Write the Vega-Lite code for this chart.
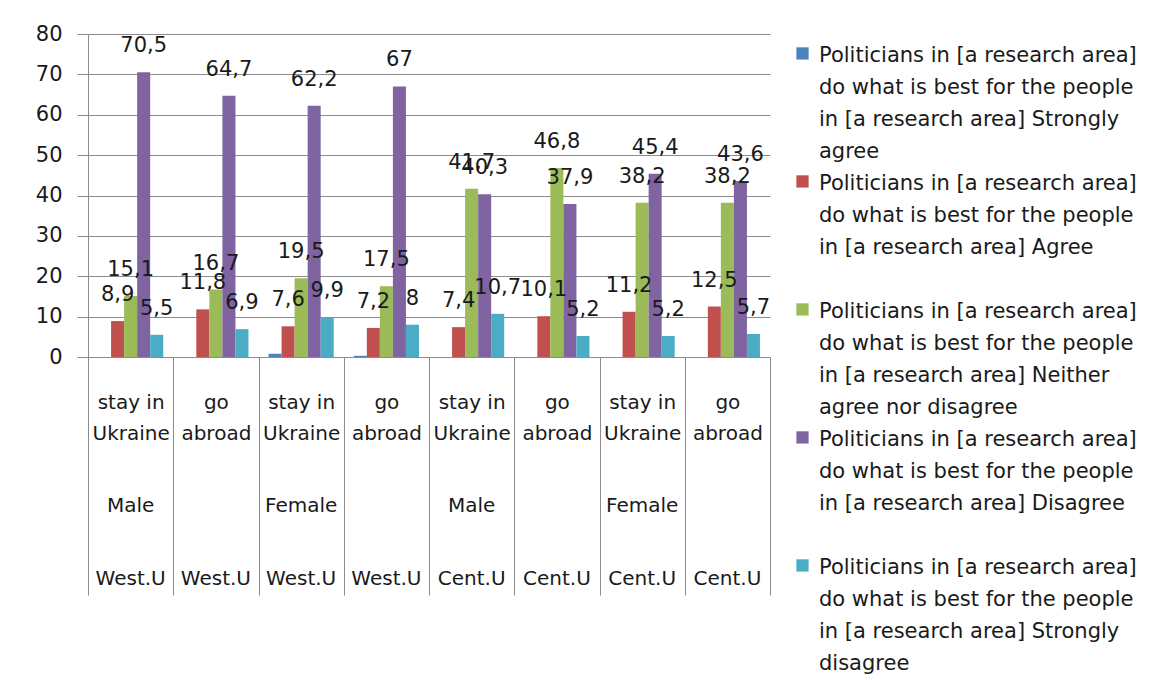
{
  "$schema": "https://vega.github.io/schema/vega-lite/v6.json",
  "width": 682,
  "height": 323,
  "autosize": {"type": "none"},
  "padding": {"left": 88, "top": 34, "right": 403, "bottom": 323},
  "background": "white",
  "config": {
    "view": {"stroke": null},
    "font": "DejaVu Sans",
    "style": {"guide-label": {"lineHeight": 32}},
    "locale": {"number": {"decimal": ",", "thousands": " ", "grouping": [3], "currency": ["", ""]}}
  },
  "resolve": {"axis": {"x": "independent"}},
  "data": {
    "values": [
      {"group": "stay in|Ukraine|Male|West.U", "answer": "Strongly agree", "value": 0},
      {"group": "stay in|Ukraine|Male|West.U", "answer": "Agree", "value": 8.9},
      {"group": "stay in|Ukraine|Male|West.U", "answer": "Neither agree nor disagree", "value": 15.1},
      {"group": "stay in|Ukraine|Male|West.U", "answer": "Disagree", "value": 70.5},
      {"group": "stay in|Ukraine|Male|West.U", "answer": "Strongly disagree", "value": 5.5},
      {"group": "go|abroad|Male|West.U", "answer": "Strongly agree", "value": 0},
      {"group": "go|abroad|Male|West.U", "answer": "Agree", "value": 11.8},
      {"group": "go|abroad|Male|West.U", "answer": "Neither agree nor disagree", "value": 16.7},
      {"group": "go|abroad|Male|West.U", "answer": "Disagree", "value": 64.7},
      {"group": "go|abroad|Male|West.U", "answer": "Strongly disagree", "value": 6.9},
      {"group": "stay in|Ukraine|Female|West.U", "answer": "Strongly agree", "value": 0.8},
      {"group": "stay in|Ukraine|Female|West.U", "answer": "Agree", "value": 7.6},
      {"group": "stay in|Ukraine|Female|West.U", "answer": "Neither agree nor disagree", "value": 19.5},
      {"group": "stay in|Ukraine|Female|West.U", "answer": "Disagree", "value": 62.2},
      {"group": "stay in|Ukraine|Female|West.U", "answer": "Strongly disagree", "value": 9.9},
      {"group": "go|abroad|Female|West.U", "answer": "Strongly agree", "value": 0.3},
      {"group": "go|abroad|Female|West.U", "answer": "Agree", "value": 7.2},
      {"group": "go|abroad|Female|West.U", "answer": "Neither agree nor disagree", "value": 17.5},
      {"group": "go|abroad|Female|West.U", "answer": "Disagree", "value": 67},
      {"group": "go|abroad|Female|West.U", "answer": "Strongly disagree", "value": 8},
      {"group": "stay in|Ukraine|Male|Cent.U", "answer": "Strongly agree", "value": 0},
      {"group": "stay in|Ukraine|Male|Cent.U", "answer": "Agree", "value": 7.4},
      {"group": "stay in|Ukraine|Male|Cent.U", "answer": "Neither agree nor disagree", "value": 41.7},
      {"group": "stay in|Ukraine|Male|Cent.U", "answer": "Disagree", "value": 40.3},
      {"group": "stay in|Ukraine|Male|Cent.U", "answer": "Strongly disagree", "value": 10.7},
      {"group": "go|abroad|Male|Cent.U", "answer": "Strongly agree", "value": 0},
      {"group": "go|abroad|Male|Cent.U", "answer": "Agree", "value": 10.1},
      {"group": "go|abroad|Male|Cent.U", "answer": "Neither agree nor disagree", "value": 46.8},
      {"group": "go|abroad|Male|Cent.U", "answer": "Disagree", "value": 37.9},
      {"group": "go|abroad|Male|Cent.U", "answer": "Strongly disagree", "value": 5.2},
      {"group": "stay in|Ukraine|Female|Cent.U", "answer": "Strongly agree", "value": 0},
      {"group": "stay in|Ukraine|Female|Cent.U", "answer": "Agree", "value": 11.2},
      {"group": "stay in|Ukraine|Female|Cent.U", "answer": "Neither agree nor disagree", "value": 38.2},
      {"group": "stay in|Ukraine|Female|Cent.U", "answer": "Disagree", "value": 45.4},
      {"group": "stay in|Ukraine|Female|Cent.U", "answer": "Strongly disagree", "value": 5.2},
      {"group": "go|abroad|Female|Cent.U", "answer": "Strongly agree", "value": 0},
      {"group": "go|abroad|Female|Cent.U", "answer": "Agree", "value": 12.5},
      {"group": "go|abroad|Female|Cent.U", "answer": "Neither agree nor disagree", "value": 38.2},
      {"group": "go|abroad|Female|Cent.U", "answer": "Disagree", "value": 43.6},
      {"group": "go|abroad|Female|Cent.U", "answer": "Strongly disagree", "value": 5.7}
    ]
  },
  "encoding": {
    "xOffset": {
      "field": "answer",
      "type": "nominal",
      "scale": {"domain": ["Strongly agree", "Agree", "Neither agree nor disagree", "Disagree", "Strongly disagree"], "paddingInner": 0, "paddingOuter": 0.77}
    },
    "y": {
      "field": "value",
      "type": "quantitative",
      "scale": {"domain": [0, 80], "nice": false},
      "axis": {
        "title": null,
        "values": [0, 10, 20, 30, 40, 50, 60, 70, 80],
        "labelFont": "DejaVu Sans",
        "labelFontSize": 21,
        "labelColor": "#1a1a1a",
        "labelPadding": 15,
        "tickSize": 11,
        "tickColor": "#8c8c8c",
        "domainColor": "#8c8c8c",
        "gridColor": "#8c8c8c",
        "grid": true
      }
    },
    "color": {
      "field": "answer",
      "type": "nominal",
      "scale": {
        "domain": ["Strongly agree", "Agree", "Neither agree nor disagree", "Disagree", "Strongly disagree"],
        "range": ["#4F81BD", "#C0504D", "#9BBB59", "#8064A2", "#4BACC6"]
      },
      "legend": {
        "title": null,
        "orient": "right",
        "offset": 22,
        "padding": 0,
        "rowPadding": 0,
        "gridAlign": "all",
        "symbolType": "M-1,0.46H1V2.46H-1Z",
        "symbolSize": 150,
        "symbolStrokeWidth": 0,
        "labelFont": "DejaVu Sans",
        "labelFontSize": 21,
        "labelColor": "#1a1a1a",
        "labelBaseline": "top",
        "labelOffset": 6,
        "labelLimit": 400,
        "labelExpr": "datum.label == 'Strongly agree' ? ['Politicians in [a research area]','do what is best for the people','in [a research area]  Strongly','agree'] : datum.label == 'Agree' ? ['Politicians in [a research area]','do what is best for the people','in [a research area]  Agree'] : datum.label == 'Neither agree nor disagree' ? ['Politicians in [a research area]','do what is best for the people','in [a research area]  Neither','agree nor disagree'] : datum.label == 'Disagree' ? ['Politicians in [a research area]','do what is best for the people','in [a research area]  Disagree'] : ['Politicians in [a research area]','do what is best for the people','in [a research area]  Strongly','disagree']"
      }
    }
  },
  "layer": [
    {
      "transform": [{"filter": "datum.answer == 'Strongly agree' || datum.answer == 'Agree' || datum.answer == 'Neither agree nor disagree'"}],
      "mark": {"type": "bar"},
      "encoding": {
        "x": {
          "field": "group",
          "type": "nominal",
          "sort": null,
          "scale": {"paddingInner": 0, "paddingOuter": 0},
          "axis": {
            "orient": "bottom",
            "title": null,
            "labelAngle": 0,
            "labelFont": "DejaVu Sans",
            "labelFontSize": 20,
            "labelColor": "#1a1a1a",
            "labelLineHeight": 31,
            "labelBaseline": "top",
            "labelPadding": -203,
            "labelLimit": 200,
            "labelExpr": "indexof(datum.label,'|') < 0 ? '' : [split(datum.label,'|')[0], split(datum.label,'|')[1]]",
            "tickBand": "extent",
            "tickSize": 238,
            "tickColor": "#8c8c8c",
            "domainColor": "#8c8c8c",
            "grid": false
          }
        }
      }
    },
    {
      "transform": [{"filter": "datum.answer == 'Disagree' || datum.answer == 'Strongly disagree'"}],
      "mark": {"type": "bar"},
      "encoding": {
        "x": {
          "field": "group",
          "type": "nominal",
          "sort": null,
          "scale": {"paddingInner": 0, "paddingOuter": 0},
          "axis": {
            "orient": "bottom",
            "title": null,
            "labelAngle": 0,
            "labelFont": "DejaVu Sans",
            "labelFontSize": 20,
            "labelColor": "#1a1a1a",
            "labelBaseline": "bottom",
            "labelPadding": 231,
            "labelLimit": 200,
            "labelExpr": "split(datum.label,'|')[3]",
            "ticks": false,
            "tickSize": 0,
            "domain": false,
            "grid": false
          }
        }
      }
    },
    {
      "transform": [{"filter": "datum.answer != 'Strongly agree'"}],
      "mark": {"type": "text", "dy": -26, "fontSize": 21, "font": "DejaVu Sans"},
      "encoding": {
        "x": {
          "field": "group",
          "type": "nominal",
          "sort": null,
          "scale": {"paddingInner": 0, "paddingOuter": 0},
          "axis": {
            "orient": "bottom",
            "title": null,
            "values": ["stay in|Ukraine|Male|West.U", "stay in|Ukraine|Female|West.U", "stay in|Ukraine|Male|Cent.U", "stay in|Ukraine|Female|Cent.U"],
            "labelAngle": 0,
            "labelFont": "DejaVu Sans",
            "labelFontSize": 20,
            "labelColor": "#1a1a1a",
            "labelBaseline": "bottom",
            "labelPadding": 158,
            "labelLimit": 200,
            "labelExpr": "split(datum.label,'|')[2]",
            "ticks": false,
            "tickSize": 0,
            "domain": false,
            "grid": false
          }
        },
        "color": {"value": "#1a1a1a"},
        "text": {"field": "value", "type": "quantitative", "format": "~g"}
      }
    }
  ]
}
